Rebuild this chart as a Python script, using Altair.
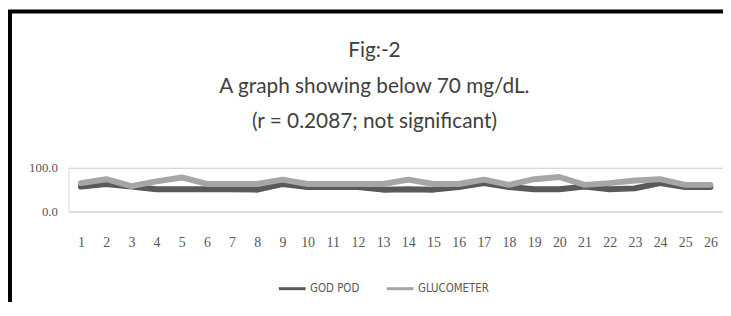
import altair as alt
import pandas as pd

samples = [str(i) for i in range(1, 27)]
god_pod = [57, 63, 57, 51, 51, 51, 51, 50, 63, 56, 56, 56, 50, 51, 50, 56, 65, 56, 51, 51, 57, 51, 53, 65, 56, 56]
glucometer = [65, 74, 58, 69, 78, 63, 63, 63, 73, 63, 63, 63, 63, 73, 63, 63, 73, 61, 74, 79, 61, 65, 71, 74, 61, 61]
series_names = ["GOD POD", "GLUCOMETER"]
series_colors = ["#595959", "#a6a6a6"]
title_lines = ["Fig:-2", "A graph showing below 70 mg/dL.", "(r = 0.2087; not significant)"]
y_ticks = [0, 100]

rows = []
for s, g, c in zip(samples, god_pod, glucometer):
    rows.append({"n": s, "series": series_names[0], "value": g})
    rows.append({"n": s, "series": series_names[1], "value": c})
df = pd.DataFrame(rows)

NARROW = "DejaVu Sans Condensed, sans-serif"
TITLEFONT = "Lato, sans-serif"
SERIF = "Liberation Serif, serif"

lines = alt.Chart(df).mark_line(strokeWidth=6, strokeJoin="round", strokeCap="round").encode(
    x=alt.X("n:N", sort=samples, scale=alt.Scale(padding=0.5),
            axis=alt.Axis(title=None, labelAngle=0, ticks=False, domain=False, grid=False,
                          labelPadding=24, labelFont=SERIF, labelFontSize=14, labelColor="#595959")),
    y=alt.Y("value:Q", scale=alt.Scale(domain=[0, 100], nice=False),
            axis=alt.Axis(title=None, values=y_ticks, format=".1f", ticks=False, domain=False,
                          grid=True, gridColor="#d9d9d9", gridWidth=1.5, labelPadding=11,
                          labelFont=SERIF, labelFontSize=13, labelColor="#595959")),
    color=alt.Color("series:N", sort=series_names,
                    scale=alt.Scale(domain=series_names, range=series_colors),
                    legend=alt.Legend(title=None, orient="none", legendX=211, legendY=107,
                                      direction="horizontal", symbolType="stroke",
                                      symbolSize=729, symbolStrokeWidth=3, labelFont=NARROW,
                                      labelFontSize=11.5, labelColor="#595959", columnPadding=21,
                                      labelOffset=3)),
    order=alt.Order("series:N"),
)

one = alt.Data(values=[{}])

frame = alt.Chart(one).mark_rect(fill=None, stroke="black", strokeWidth=4).encode(
    x=alt.value(-59), x2=alt.value(700), y=alt.value(-158), y2=alt.value(150)
)

title = alt.Chart(one).mark_text(
    font=TITLEFONT, fontSize=21, lineHeight=36, color="#404040", align="center", baseline="alphabetic"
).encode(
    x=alt.value(309), y=alt.value(-112), text=alt.value(title_lines)
)

chart = alt.layer(frame, title, lines).properties(
    width=661, height=44,
    autosize=alt.AutoSizeParams(type="none"),
    padding={"left": 61, "top": 160, "right": 0, "bottom": 90},
).configure_view(stroke=None).configure(background="white")

chart.save("out.html", embed_options={"renderer": "svg", "actions": False})
